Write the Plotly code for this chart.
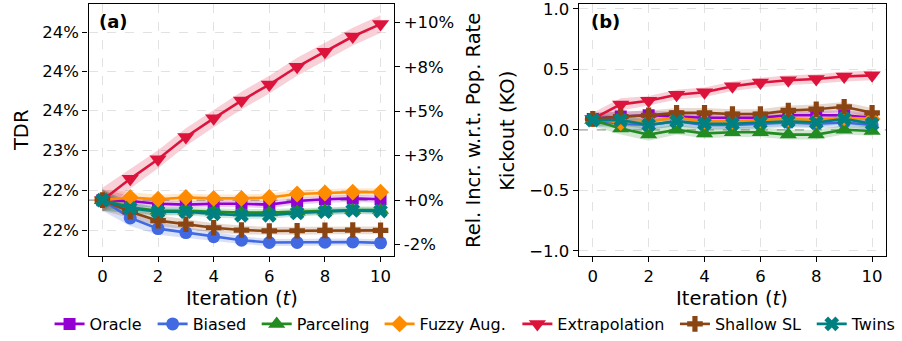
import plotly.graph_objects as go

# ---------------- data ----------------
iterations = list(range(11))
series_names = ["Oracle", "Biased", "Parceling", "Fuzzy Aug.", "Extrapolation", "Shallow SL", "Twins"]
series_colors = ["#9400D3", "#4169E1", "#228B22", "#FF8C00", "#DC143C", "#8B4513", "#008080"]
series_symbols = ["square", "circle", "triangle-up", "diamond", "triangle-down", "cross", "x"]
series_msize = [12, 13, 15, 13, 15, 13, 13]

# Panel (a): relative increase of TDR w.r.t. population rate (%)
oracle_a = [0, -0.05, -0.2, -0.25, -0.2, -0.2, -0.25, -0.05, 0.05, 0.1, 0.05]
biased_a = [0, -1.0, -1.6, -1.82, -2.05, -2.25, -2.38, -2.38, -2.36, -2.35, -2.4]
parcel_a = [0, -0.4, -0.6, -0.6, -0.65, -0.7, -0.7, -0.65, -0.6, -0.55, -0.55]
fuzzy_a = [0, 0.15, 0.05, 0.15, 0.1, 0.1, 0.15, 0.35, 0.4, 0.45, 0.45]
extrap_a = [0, 1.2, 2.3, 3.55, 4.6, 5.6, 6.5, 7.5, 8.35, 9.2, 9.9]
shallow_a = [0, -0.65, -1.15, -1.35, -1.55, -1.68, -1.73, -1.72, -1.7, -1.68, -1.7]
twins_a = [0, -0.45, -0.65, -0.65, -0.77, -0.85, -0.85, -0.72, -0.65, -0.58, -0.62]

# Panel (a) band half-widths
oracle_sd_a = [0.6, 0.3, 0.22, 0.2, 0.2, 0.2, 0.2, 0.2, 0.2, 0.2, 0.2]
biased_sd_a = [0.6, 0.45, 0.35, 0.3, 0.25, 0.22, 0.2, 0.2, 0.2, 0.2, 0.2]
parcel_sd_a = [0.6, 0.3, 0.22, 0.2, 0.2, 0.2, 0.2, 0.2, 0.2, 0.2, 0.2]
fuzzy_sd_a = [0.6, 0.3, 0.25, 0.22, 0.22, 0.22, 0.22, 0.22, 0.22, 0.22, 0.22]
extrap_sd_a = [0.7, 0.55, 0.5, 0.5, 0.5, 0.5, 0.5, 0.5, 0.5, 0.5, 0.5]
shallow_sd_a = [0.6, 0.35, 0.3, 0.28, 0.25, 0.25, 0.22, 0.22, 0.22, 0.22, 0.22]
twins_sd_a = [0.6, 0.3, 0.22, 0.2, 0.2, 0.2, 0.2, 0.2, 0.2, 0.2, 0.2]

# Panel (b): Kickout (KO)
oracle_b = [0.09, 0.11, 0.12, 0.11, 0.1, 0.1, 0.1, 0.12, 0.12, 0.12, 0.1]
biased_b = [0.08, 0.05, 0.04, 0.07, 0.04, 0.04, 0.05, 0.06, 0.05, 0.06, 0.04]
parcel_b = [0.08, 0.01, -0.04, 0.0, -0.03, -0.02, -0.02, -0.04, -0.04, 0.0, -0.01]
fuzzy_b = [0.09, 0.06, 0.07, 0.1, 0.07, 0.07, 0.08, 0.09, 0.08, 0.1, 0.09]
extrap_b = [0.09, 0.21, 0.24, 0.29, 0.31, 0.36, 0.39, 0.41, 0.42, 0.44, 0.45]
shallow_b = [0.09, 0.11, 0.12, 0.14, 0.14, 0.13, 0.13, 0.16, 0.17, 0.19, 0.14]
twins_b = [0.08, 0.08, 0.04, 0.07, 0.05, 0.05, 0.06, 0.07, 0.06, 0.09, 0.05]

# Panel (b) band half-widths
oracle_sd_b = [0.05, 0.04, 0.04, 0.04, 0.04, 0.04, 0.04, 0.04, 0.04, 0.04, 0.04]
biased_sd_b = [0.05, 0.04, 0.04, 0.04, 0.04, 0.04, 0.04, 0.04, 0.04, 0.04, 0.04]
parcel_sd_b = [0.05, 0.05, 0.05, 0.04, 0.04, 0.04, 0.04, 0.04, 0.04, 0.04, 0.04]
fuzzy_sd_b = [0.05, 0.04, 0.04, 0.04, 0.04, 0.04, 0.04, 0.04, 0.04, 0.04, 0.04]
extrap_sd_b = [0.05, 0.05, 0.04, 0.04, 0.04, 0.04, 0.04, 0.04, 0.04, 0.04, 0.04]
shallow_sd_b = [0.05, 0.04, 0.04, 0.04, 0.04, 0.04, 0.04, 0.04, 0.04, 0.04, 0.04]
twins_sd_b = [0.05, 0.04, 0.04, 0.04, 0.04, 0.04, 0.04, 0.04, 0.04, 0.04, 0.04]

# Tick labels
tdr_tick_pos = [-1.68, 0.54, 2.81, 5.03, 7.25, 9.45]
tdr_tick_text = ["22%", "22%", "23%", "24%", "24%", "24%"]
rel_tick_pos = [-2.5, 0, 2.5, 5, 7.5, 10]
rel_tick_text = ["-2%", "+0%", "+3%", "+5%", "+8%", "+10%"]
ko_tick_pos = [-1.0, -0.5, 0.0, 0.5, 1.0]
x_tick_pos = [0, 2, 4, 6, 8, 10]

# legend entry left positions (px)
legend_x_px = [55, 159, 264, 388, 527, 686, 824]

vals_a = [oracle_a, biased_a, parcel_a, fuzzy_a, extrap_a, shallow_a, twins_a]
sds_a = [oracle_sd_a, biased_sd_a, parcel_sd_a, fuzzy_sd_a, extrap_sd_a, shallow_sd_a, twins_sd_a]
vals_b = [oracle_b, biased_b, parcel_b, fuzzy_b, extrap_b, shallow_b, twins_b]
sds_b = [oracle_sd_b, biased_sd_b, parcel_sd_b, fuzzy_sd_b, extrap_sd_b, shallow_sd_b, twins_sd_b]

FONT = "DejaVu Sans"
W, H = 902, 341


def rgba(hexc, a):
    h = hexc.lstrip("#")
    return "rgba(%d,%d,%d,%.2f)" % (int(h[0:2], 16), int(h[2:4], 16), int(h[4:6], 16), a)


fig = go.Figure()

legend_ids = ["legend"] + ["legend%d" % (k + 2) for k in range(6)]

for panel, (vals, sds, xa, ya) in enumerate([(vals_a, sds_a, "x", "y"), (vals_b, sds_b, "x2", "y2")]):
    for i, name in enumerate(series_names):
        v, s = vals[i], sds[i]
        upper = [a + b for a, b in zip(v, s)]
        lower = [a - b for a, b in zip(v, s)]
        fig.add_trace(go.Scatter(
            x=iterations + iterations[::-1], y=upper + lower[::-1],
            fill="toself", fillcolor=rgba(series_colors[i], 0.2),
            line=dict(width=0), mode="lines", hoverinfo="skip",
            showlegend=False, xaxis=xa, yaxis=ya))
    for i, name in enumerate(series_names):
        fig.add_trace(go.Scatter(
            x=iterations, y=vals[i], mode="lines+markers", name=name,
            line=dict(color=series_colors[i], width=2.6),
            marker=dict(symbol=series_symbols[i], size=series_msize[i], color=series_colors[i], line=dict(width=0)),
            showlegend=(panel == 0), legend=legend_ids[i], xaxis=xa, yaxis=ya))

# invisible carrier trace so that the right-hand twin axis of panel (a) is drawn
fig.add_trace(go.Scatter(x=iterations, y=extrap_a, mode="lines", line=dict(width=0), opacity=0,
                         hoverinfo="skip", showlegend=False, xaxis="x", yaxis="y3"))

axis_common = dict(showline=True, linecolor="black", linewidth=1.3, mirror=True,
                   ticks="outside", ticklen=5, tickwidth=1.2, tickcolor="black",
                   showgrid=True, gridcolor="rgba(190,190,190,0.45)", griddash="dash", gridwidth=1,
                   zeroline=False, automargin=False, ticklabeloverflow="allow",
                   tickfont=dict(family=FONT, size=16.5, color="black"))

dom_y = [1 - 257.7 / H, 1 - 4 / H]
layout = dict(
    width=W, height=H,
    margin=dict(l=0, r=0, t=0, b=0),
    paper_bgcolor="white", plot_bgcolor="white",
    font=dict(family=FONT, color="black"),
    xaxis=dict(domain=[89.3 / W, 398 / W], anchor="y", range=[-0.5, 10.5], tickvals=x_tick_pos, **axis_common),
    yaxis=dict(domain=dom_y, anchor="x", range=[-3.15, 11.03], tickvals=tdr_tick_pos, ticktext=tdr_tick_text, **axis_common),
    yaxis3=dict(overlaying="y", anchor="x", side="right", range=[-3.15, 11.03], tickvals=rel_tick_pos,
                ticktext=rel_tick_text, showgrid=False, showline=False, zeroline=False, automargin=False,
                ticklabeloverflow="allow",
                ticks="outside", ticklen=5, tickwidth=1.2, tickcolor="black",
                tickfont=dict(family=FONT, size=16.5, color="black")),
    xaxis2=dict(domain=[584 / W, 894 / W], anchor="y2", range=[-0.5, 10.5], tickvals=x_tick_pos, **axis_common),
    yaxis2=dict(domain=dom_y, anchor="x2", range=[-1.045, 1.04], tickvals=ko_tick_pos, tickformat=".1f", **axis_common),
    showlegend=True,
)
for i, lid in enumerate(legend_ids):
    layout[lid] = dict(orientation="h", x=(legend_x_px[i] - 5) / W, xanchor="left", y=1 - 326 / H, yanchor="middle",
                       font=dict(family=FONT, size=16, color="black"), bgcolor="rgba(0,0,0,0)",
                       itemwidth=30, borderwidth=0)
fig.update_layout(**layout)

# Dashed reference lines at zero
for xr, yr in [("x domain", "y"), ("x2 domain", "y2")]:
    fig.add_shape(type="line", xref=xr, yref=yr, x0=0, x1=1, y0=0, y1=0,
                  line=dict(color="rgba(128,128,128,0.8)", width=1.3, dash="dash"), layer="below")

ann = []
ann.append(dict(text="<b>(a)</b>", xref="x domain", yref="y domain", x=0.028, y=0.93,
                xanchor="left", yanchor="middle", showarrow=False, font=dict(family=FONT, size=18)))
ann.append(dict(text="<b>(b)</b>", xref="x2 domain", yref="y2 domain", x=0.032, y=0.93,
                xanchor="left", yanchor="middle", showarrow=False, font=dict(family=FONT, size=18)))
ann.append(dict(text="TDR", xref="paper", yref="paper", x=21 / W, y=1 - 131 / H, textangle=-90,
                xanchor="center", yanchor="middle", showarrow=False, font=dict(family=FONT, size=19.5)))
ann.append(dict(text="Rel. Incr. w.r.t. Pop. Rate", xref="paper", yref="paper", x=477 / W, y=1 - 131 / H,
                textangle=-90, xanchor="center", yanchor="middle", showarrow=False,
                font=dict(family=FONT, size=19.5)))
ann.append(dict(text="Kickout (KO)", xref="paper", yref="paper", x=512 / W, y=1 - 131 / H, textangle=-90,
                xanchor="center", yanchor="middle", showarrow=False, font=dict(family=FONT, size=19.5)))
ann.append(dict(text="Iteration (<i>t</i>)", xref="paper", yref="paper", x=243.7 / W, y=1 - 300 / H,
                xanchor="center", yanchor="middle", showarrow=False, font=dict(family=FONT, size=19.5)))
ann.append(dict(text="Iteration (<i>t</i>)", xref="paper", yref="paper", x=739 / W, y=1 - 300 / H,
                xanchor="center", yanchor="middle", showarrow=False, font=dict(family=FONT, size=19.5)))
fig.update_layout(annotations=ann)

fig.write_html("out.html", config={"displayModeBar": False},
               post_script="document.body.style.margin='0';document.body.style.overflow='hidden';")
